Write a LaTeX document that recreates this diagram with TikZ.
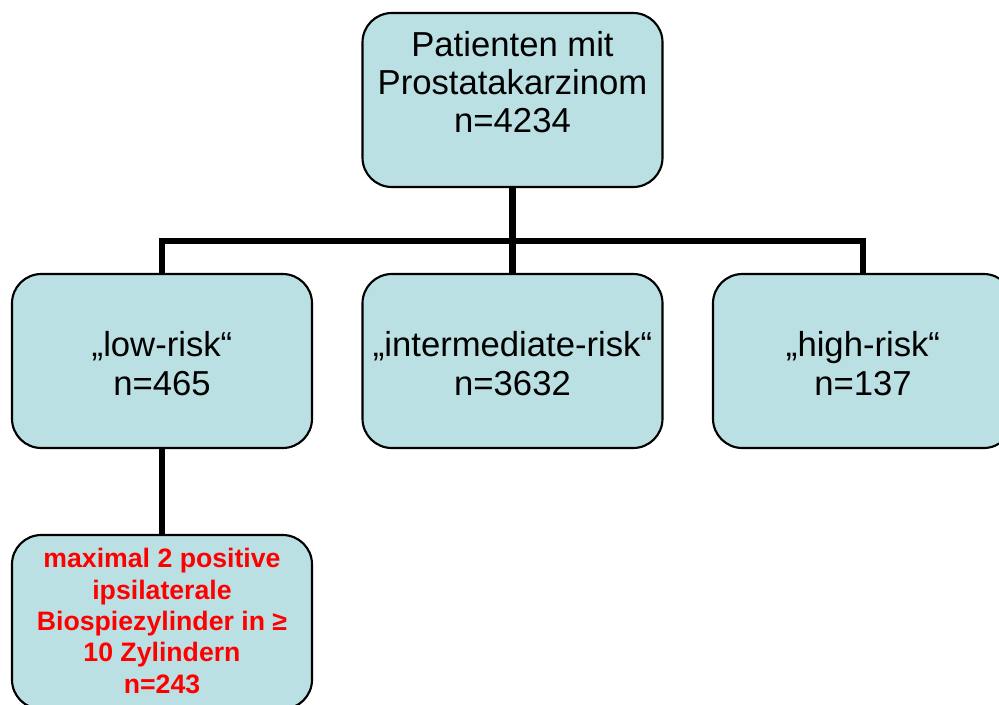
\documentclass[tikz,border=0pt]{standalone}
\usepackage{fontspec}
\setmainfont{Liberation Sans}
\definecolor{boxfill}{RGB}{187,224,227}
\definecolor{redtxt}{RGB}{255,0,0}
\begin{document}
\begin{tikzpicture}[x=0.75pt,y=-0.75pt,
  box/.style={draw=black,line width=1.6pt,fill=boxfill,rounded corners=22pt,
    minimum width=300*0.75pt,minimum height=174*0.75pt,inner sep=0pt},
  conn/.style={line width=4.6pt,draw=black},
  bigtxt/.style={align=center,font=\fontsize{26}{28.5}\selectfont,inner sep=0pt},
  redtext/.style={align=center,font=\fontsize{20}{23.5}\selectfont\bfseries,text=redtxt,inner sep=0pt}]
\useasboundingbox (0,0) rectangle (999,704);
\clip (0,0) rectangle (999,704);
% boxes
\node[box] (top) at (512.5,100) {};
\node[box] (low) at (162,361) {};
\node[box] (mid) at (512.5,361) {};
\node[box] (high) at (863,361) {};
\node[box] (sub) at (162,622) {};
% texts
\node[bigtxt] (topT) at (512.5,82.6) {Patienten mit\\Prostatakarzinom\\n=4234};
\node[bigtxt] (lowT) at (162,363.6) {„low-risk“\\n=465};
\node[bigtxt] (midT) at (512.5,363.6) {„intermediate-risk“\\n=3632};
\node[bigtxt] (highT) at (863,363.6) {„high-risk“\\n=137};
\node[redtext] (subT) at (162,621) {maximal 2 positive\\ipsilaterale\\Biospiezylinder in ≥\\10 Zylindern\\n=243};
% connectors
\coordinate (j) at (512.5,241);
\draw[conn] (top.south) -- (j);
\draw[conn] (low.north) |- (j) -| (high.north);
\draw[conn] (j) -- (mid.north);
\draw[conn] (low.south) -- (sub.north);
\end{tikzpicture}
\end{document}
